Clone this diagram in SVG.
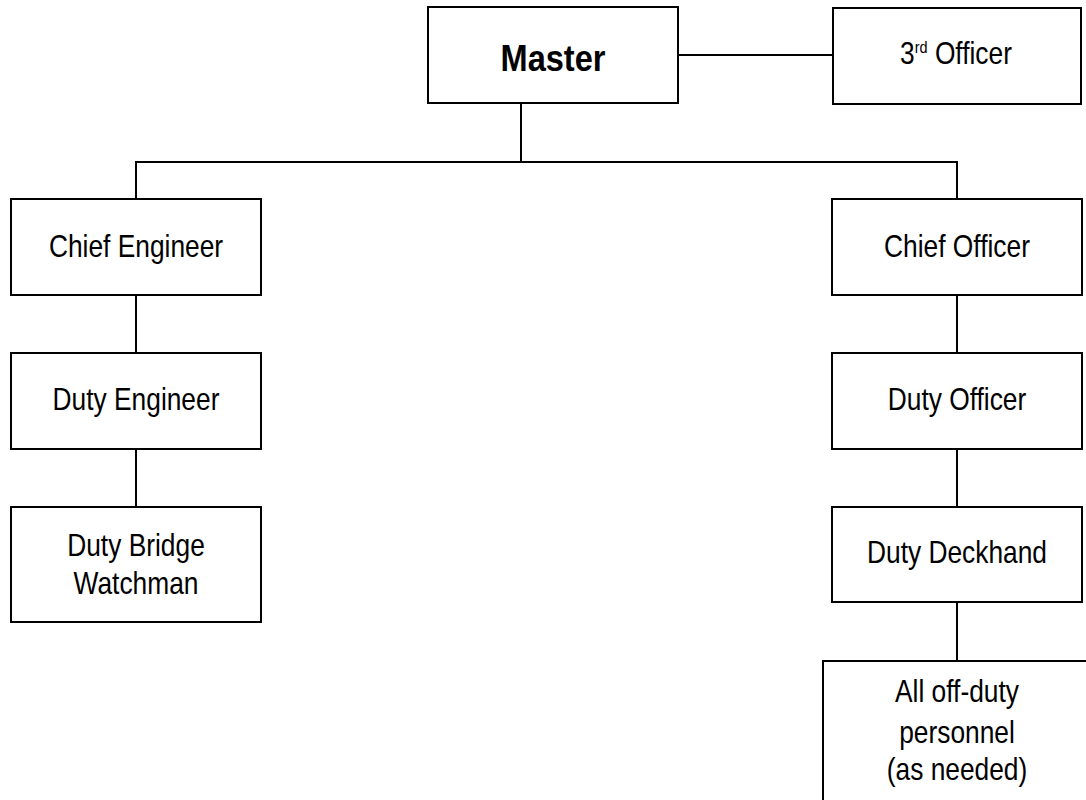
<svg xmlns="http://www.w3.org/2000/svg" width="1086" height="800" viewBox="0 0 1086 800">
<style>
.box{fill:#fff;stroke:#000;stroke-width:2}
.ln{fill:none;stroke:#000;stroke-width:2}
.t{font-family:"Liberation Sans",Arial,sans-serif;font-size:31px;fill:#000;text-anchor:middle}
.b{font-weight:bold;font-size:37px}
</style>
<rect width="1086" height="800" fill="#fff"/>
<g id="connectors">
<line class="ln" x1="678" y1="55" x2="833" y2="55"/>
<line class="ln" x1="521" y1="103" x2="521" y2="162"/>
<polyline class="ln" points="136,199 136,162 957,162 957,199"/>
<line class="ln" x1="136" y1="295" x2="136" y2="353"/>
<line class="ln" x1="136" y1="449" x2="136" y2="507"/>
<line class="ln" x1="957" y1="295" x2="957" y2="353"/>
<line class="ln" x1="957" y1="449" x2="957" y2="507"/>
<line class="ln" x1="957" y1="602" x2="957" y2="661"/>
</g>
<g id="master"><rect class="box" x="428" y="7" width="250" height="96"/><text class="t b" transform="translate(553 71) scale(0.88 1)">Master</text></g>
<g id="third-officer"><rect class="box" x="833" y="8" width="248" height="96"/><text class="t" transform="translate(956 64) scale(0.85 1)">3<tspan font-size="17" dy="-11">rd</tspan><tspan dy="11"> Officer</tspan></text></g>
<g id="chief-engineer"><rect class="box" x="11" y="199" width="250" height="96"/><text class="t" transform="translate(136 257) scale(0.85 1)">Chief Engineer</text></g>
<g id="duty-engineer"><rect class="box" x="11" y="353" width="250" height="96"/><text class="t" transform="translate(136 410) scale(0.85 1)">Duty Engineer</text></g>
<g id="duty-bridge-watchman"><rect class="box" x="11" y="507" width="250" height="115"/><text class="t" transform="translate(136 556) scale(0.85 1)">Duty Bridge</text><text class="t" transform="translate(136 594) scale(0.85 1)">Watchman</text></g>
<g id="chief-officer"><rect class="box" x="832" y="199" width="250" height="96"/><text class="t" transform="translate(957 257) scale(0.85 1)">Chief Officer</text></g>
<g id="duty-officer"><rect class="box" x="832" y="353" width="250" height="96"/><text class="t" transform="translate(957 410) scale(0.85 1)">Duty Officer</text></g>
<g id="duty-deckhand"><rect class="box" x="832" y="507" width="250" height="95"/><text class="t" transform="translate(957 563) scale(0.85 1)">Duty Deckhand</text></g>
<g id="off-duty"><rect class="box" x="823" y="661" width="275" height="150"/><text class="t" transform="translate(957 702) scale(0.85 1)">All off-duty</text><text class="t" transform="translate(957 743) scale(0.85 1)">personnel</text><text class="t" transform="translate(957 780) scale(0.85 1)">(as needed)</text></g>
</svg>
